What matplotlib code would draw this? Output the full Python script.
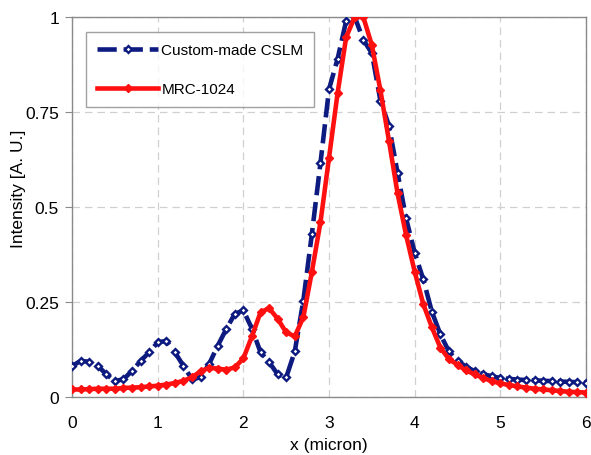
import matplotlib
matplotlib.use("Agg")
import matplotlib.pyplot as plt
import numpy as np

plt.rcParams['font.family'] = ['Liberation Sans', 'DejaVu Sans']

x_vals = [round(0.1 * i, 1) for i in range(61)]

cslm = [0.082, 0.095, 0.093, 0.082, 0.060, 0.042, 0.047, 0.069, 0.095, 0.118,
        0.144, 0.148, 0.118, 0.082, 0.047, 0.052, 0.087, 0.135, 0.179, 0.219,
        0.228, 0.180, 0.118, 0.092, 0.060, 0.052, 0.120, 0.254, 0.430, 0.616,
        0.810, 0.890, 0.990, 1.000, 0.940, 0.905, 0.780, 0.714, 0.590, 0.470,
        0.380, 0.310, 0.225, 0.165, 0.120, 0.095, 0.080, 0.068, 0.060, 0.055,
        0.050, 0.048, 0.046, 0.045, 0.044, 0.043, 0.042, 0.041, 0.040, 0.039,
        0.038]

mrc = [0.020, 0.020, 0.021, 0.022, 0.022, 0.022, 0.024, 0.025, 0.026, 0.028,
       0.030, 0.033, 0.037, 0.043, 0.052, 0.068, 0.077, 0.075, 0.072, 0.078,
       0.102, 0.160, 0.223, 0.234, 0.206, 0.170, 0.160, 0.210, 0.330, 0.460,
       0.630, 0.800, 0.947, 1.000, 1.000, 0.926, 0.807, 0.674, 0.536, 0.426,
       0.330, 0.245, 0.184, 0.130, 0.100, 0.085, 0.070, 0.060, 0.050, 0.042,
       0.036, 0.032, 0.028, 0.025, 0.022, 0.020, 0.018, 0.016, 0.014, 0.013,
       0.012]

x_ticks = [0, 1, 2, 3, 4, 5, 6]
y_ticks = [0, 0.25, 0.5, 0.75, 1]
y_tick_labels = ['0', '0.25', '0.5', '0.75', '1']

navy = '#0d1a80'
red = '#ff1010'

fig = plt.figure(figsize=(5.91, 4.56), dpi=100)
ax = fig.add_axes([0.122, 0.127, 0.8695, 0.8335])

l1, = ax.plot(x_vals, cslm, color=navy, lw=3.3, dashes=(4.2, 1.5),
              marker='D', ms=3.5, mfc='white', mec=navy, mew=1.7,
              label='Custom-made CSLM', zorder=3)
l2, = ax.plot(x_vals, mrc, color=red, lw=3.3, marker='D', ms=4,
              mfc=red, mec=red, label='MRC-1024', zorder=4)

ax.set_xlim(0, 6)
ax.set_ylim(0, 1)
ax.set_xticks(x_ticks)
ax.set_xticklabels([str(t) for t in x_ticks])
ax.set_yticks(y_ticks)
ax.set_yticklabels(y_tick_labels)

ax.grid(True, color='#d0d0d0', linestyle=(0, (6, 4)), lw=0.9)
ax.set_axisbelow(True)
for s in ax.spines.values():
    s.set_color('#8a8a8a')
    s.set_linewidth(1.0)

ax.tick_params(axis='x', length=0, labelsize=12.5, pad=13, colors='black')
ax.tick_params(axis='y', length=5, direction='out', color='#8a8a8a',
               labelsize=12.5, pad=4.5)

ax.set_xlabel('x (micron)', fontsize=12.5)
ax.xaxis.set_label_coords(0.5, -0.105)
ax.set_ylabel('Intensity [A. U.]', fontsize=12.5)
ax.yaxis.set_label_coords(-0.09, 0.55)

leg = ax.legend(loc='upper left', bbox_to_anchor=(0.028, 0.96),
                fontsize=11, frameon=True, fancybox=False,
                edgecolor='#8a8a8a', handlelength=4.0, handletextpad=0.2,
                labelspacing=1.65, borderpad=0.7, numpoints=1,
                borderaxespad=0.0)
leg.get_frame().set_linewidth(1.0)

fig.savefig('out.png', dpi=100)
